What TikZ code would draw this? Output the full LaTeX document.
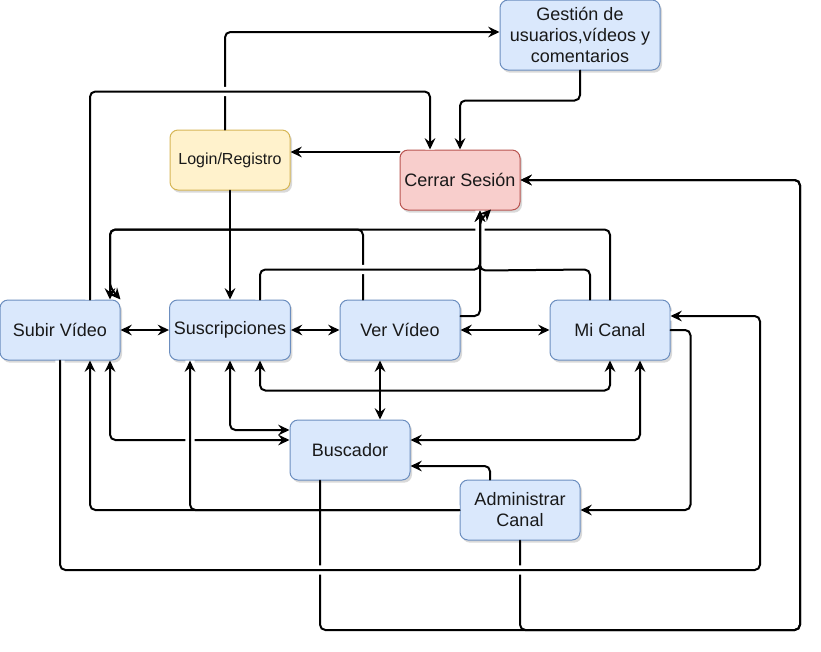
\documentclass[tikz,border=0pt]{standalone}
\usepackage{fontspec}
\setmainfont{Liberation Sans}
\usetikzlibrary{arrows.meta, calc, shadows}

\definecolor{boxblue}{HTML}{DAE8FC}
\definecolor{lineblue}{HTML}{6C8EBF}
\definecolor{boxyellow}{HTML}{FFF2CC}
\definecolor{lineyellow}{HTML}{D6B656}
\definecolor{boxred}{HTML}{F8CECC}
\definecolor{linered}{HTML}{B85450}

\begin{document}
\begin{tikzpicture}[x=0.75pt, y=-0.75pt,
  box/.style={draw=lineblue, fill=boxblue, rounded corners=6pt, line width=0.75pt,
    minimum width=90pt, minimum height=45pt, align=center, text=black!90,
    font=\fontsize{13.5}{15.75}\selectfont,
    drop shadow={shadow xshift=1.5pt, shadow yshift=-2pt, fill=black, opacity=0.15}},
  link/.style={line width=1.5pt, rounded corners=4pt, line cap=round,
    -{Stealth[length=8.5pt, width=8pt, inset=3pt]}},
  both/.style={link, {Stealth[length=8.5pt, width=8pt, inset=3pt]}-{Stealth[length=8.5pt, width=8pt, inset=3pt]}},
  gap/.style={preaction={draw=white, line width=7pt, line cap=butt, arrows=-}}]

  \useasboundingbox (0,0) rectangle (821,651);

  % Boxes
  \node[box, minimum width=120pt, minimum height=52.5pt] (gestion) at (580,35) {Gestión de\\usuarios,vídeos y\\comentarios};
  \node[box, fill=boxyellow, draw=lineyellow, font=\fontsize{12}{14}\selectfont] (login) at (230,160) {Login/Registro};
  \node[box, fill=boxred, draw=linered] (cerrar) at (460,180) {Cerrar Sesión};
  \node[box] (subir) at (60,330) {Subir Vídeo};
  \node[box] (susc) at (230,330) {Suscripciones};
  \node[box] (ver) at (400,330) {Ver Vídeo};
  \node[box] (canal) at (610,330) {Mi Canal};
  \node[box] (buscador) at (350,450) {Buscador};
  \node[box] (admin) at (520,510) {Administrar\\Canal};

  % Top routes
  \draw[link] ($(login.north)+(-5,0)$) |- ($(gestion.west)+(0,-3)$);
  \draw[gap, link] ($(subir.north)+(30,0)$) -- ++(0,-208) -| ($(cerrar.north)+(-30,0)$);
  \draw[link] (gestion.south) -- ++(0,30) -| (cerrar.north);
  \draw[link] ($(cerrar.west)+(0,-28)$) -- ($(login.east)+(0,-8)$);
  \draw[link] (login.south) -- (susc.north);

  % Into the top of Subir Video
  \draw[link] ($(ver.north)+(-37,0)$) -- ++(0,-70) -| ($(subir.north)+(50,0)$);
  \draw[link] (canal.north) -- ++(0,-70) -- ($(subir.north)+(50,-70)$) -- ($(subir.north)+(50,-12)$) -- (subir.north east);

  % Into the bottom of Cerrar Sesion
  \draw[gap, link] ($(susc.north)+(30,0)$) -- ++(0,-30) -| ($(cerrar.south)+(20,0)$);
  \draw[link] ($(canal.north)+(-20,0)$) -- ++(0,-30) -- ($(cerrar.south)+(20,60)$) -- ($(cerrar.south)+(20,10)$) -- ($(cerrar.south)+(31,-1)$);
  \draw[link] ($(ver.east)+(0,-14)$) -| ($(cerrar.south)+(20,0)$);

  % Lower routes
  \draw[both] ($(subir.south)+(50,0)$) |- ($(buscador.west)+(0,-10)$);
  \draw[both] (susc.south) |- ($(buscador.west)+(0,-20)$);
  \draw[gap, link] (admin.west) -| ($(susc.south)+(-40,0)$);
  \draw[link] (admin.west) -| ($(subir.south)+(30,0)$);
  \draw[both] ($(susc.south)+(30,0)$) -- ++(0,30) -| (canal.south);
  \draw[both] ($(ver.south)+(-20,0)$) -- ($(buscador.north)+(30,0)$);
  \draw[both] ($(canal.south)+(30,0)$) |- ($(buscador.east)+(0,-10)$);
  \draw[link] ($(admin.north)+(-30,0)$) |- ($(buscador.east)+(0,16)$);

  % Outer routes
  \draw[link] ($(buscador.south)+(-30,0)$) |- (800,630) |- (cerrar.east);
  \draw[link] (admin.south) |- (800,630) |- (cerrar.east);
  \draw[gap, link] (subir.south) |- (760,570) |- ($(canal.east)+(0,-14)$);
  \draw[link] (canal.east) -- ++(20,0) |- (admin.east);

  % Middle row
  \draw[both] (subir) -- (susc);
  \draw[both] (susc) -- (ver);
  \draw[both] (ver) -- (canal);

\end{tikzpicture}
\end{document}
